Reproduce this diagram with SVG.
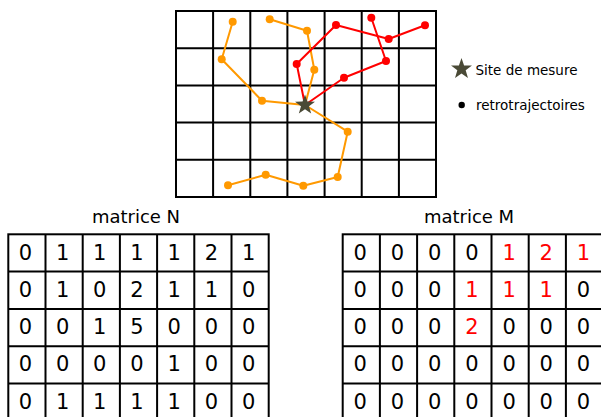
<svg xmlns="http://www.w3.org/2000/svg" xmlns:xlink="http://www.w3.org/1999/xlink" width="601" height="417" viewBox="0 0 601 417">
<style>
.grid{fill:none;stroke:#000;stroke-width:2}
.tor{fill:none;stroke:#ff9900;stroke-width:2;stroke-linejoin:round}
.tred{fill:none;stroke:#ff0000;stroke-width:2;stroke-linejoin:round}
.dor{fill:#ff9900}
.dred{fill:#ff0000}
.lbl{font-family:"DejaVu Sans",Verdana,sans-serif;fill:#000}
.num{font-family:"DejaVu Sans",Verdana,sans-serif;font-size:21px;text-anchor:middle;fill:#000}
.r{fill:#ff0000}
.star{fill:#4a4a36}
</style>
<defs>
<polygon id="star" points="0,-10 2.35,-3.24 9.51,-3.09 3.8,1.24 5.88,8.09 0,4 -5.88,8.09 -3.8,1.24 -9.51,-3.09 -2.35,-3.24"/>
</defs>
<rect width="601" height="417" fill="#fff"/>

<g id="map-grid" class="grid">
<rect x="176" y="11" width="260" height="186"/>
<path d="M213.1 11V197M250.3 11V197M287.4 11V197M324.6 11V197M361.7 11V197M398.9 11V197M176 48.2H436M176 85.4H436M176 122.6H436M176 159.8H436"/>
</g>

<g id="connectors">
<polyline class="tor" points="305,105 262,100.7 221.7,59.3 232.7,21.7"/>
<polyline class="tor" points="305,105 347.7,131.7 337.7,177 303.3,185.7 265.7,174.7 228,185.3"/>
<polyline class="tor" points="305,105 314.3,69.7 307,30.7 269.7,19.3"/>
<polyline class="tred" points="305,105 296.7,64 336,25 388.7,39 425,25.3"/>
<polyline class="tred" points="305,105 344,77.7 386,61 371.3,17.7"/>
</g>

<g id="points">
<g class="dor">
<circle cx="262" cy="100.7" r="4"/><circle cx="221.7" cy="59.3" r="4"/><circle cx="232.7" cy="21.7" r="4"/>
<circle cx="347.7" cy="131.7" r="4"/><circle cx="337.7" cy="177" r="4"/><circle cx="303.3" cy="185.7" r="4"/><circle cx="265.7" cy="174.7" r="4"/><circle cx="228" cy="185.3" r="4"/>
<circle cx="314.3" cy="69.7" r="4"/><circle cx="307" cy="30.7" r="4"/><circle cx="269.7" cy="19.3" r="4"/>
</g>
<g class="dred">
<circle cx="296.7" cy="64" r="4"/><circle cx="336" cy="25" r="4"/><circle cx="388.7" cy="39" r="4"/><circle cx="425" cy="25.3" r="4"/>
<circle cx="344" cy="77.7" r="4"/><circle cx="386" cy="61" r="4"/><circle cx="371.3" cy="17.7" r="4"/>
</g>
</g>

<g id="site">
<use xlink:href="#star" class="star" transform="translate(305,105) scale(1.05)"/>
</g>

<g id="legend">
<use xlink:href="#star" class="star" transform="translate(461.5,69) scale(1.1)"/>
<text class="lbl" x="475.5" y="74.5" font-size="13.5">Site de mesure</text>
<circle cx="461.7" cy="105" r="3.2" fill="#000"/>
<text class="lbl" x="476" y="110" font-size="13.5">retrotrajectoires</text>
</g>

<g id="matrice-N">
<text class="lbl" x="136" y="223" font-size="18" text-anchor="middle">matrice N</text>
<g class="grid">
<rect x="8.3" y="234.3" width="260.4" height="186.5"/>
<path d="M45.5 234.3V421M82.7 234.3V421M119.9 234.3V421M157.1 234.3V421M194.3 234.3V421M231.5 234.3V421M8.3 271.6H268.7M8.3 308.9H268.7M8.3 346.2H268.7M8.3 383.5H268.7"/>
</g>
<g class="num">
<text x="25.4" y="259.5">0</text><text x="62.6" y="259.5">1</text><text x="99.8" y="259.5">1</text><text x="137" y="259.5">1</text><text x="174.2" y="259.5">1</text><text x="211.4" y="259.5">2</text><text x="248.6" y="259.5">1</text>
<text x="25.4" y="296.8">0</text><text x="62.6" y="296.8">1</text><text x="99.8" y="296.8">0</text><text x="137" y="296.8">2</text><text x="174.2" y="296.8">1</text><text x="211.4" y="296.8">1</text><text x="248.6" y="296.8">0</text>
<text x="25.4" y="334.1">0</text><text x="62.6" y="334.1">0</text><text x="99.8" y="334.1">1</text><text x="137" y="334.1">5</text><text x="174.2" y="334.1">0</text><text x="211.4" y="334.1">0</text><text x="248.6" y="334.1">0</text>
<text x="25.4" y="371.4">0</text><text x="62.6" y="371.4">0</text><text x="99.8" y="371.4">0</text><text x="137" y="371.4">0</text><text x="174.2" y="371.4">1</text><text x="211.4" y="371.4">0</text><text x="248.6" y="371.4">0</text>
<text x="25.4" y="408.7">0</text><text x="62.6" y="408.7">1</text><text x="99.8" y="408.7">1</text><text x="137" y="408.7">1</text><text x="174.2" y="408.7">1</text><text x="211.4" y="408.7">0</text><text x="248.6" y="408.7">0</text>
</g>
</g>

<g id="matrice-M">
<text class="lbl" x="469" y="223" font-size="18" text-anchor="middle">matrice M</text>
<g class="grid">
<rect x="342.7" y="234.3" width="260.4" height="186.5"/>
<path d="M379.9 234.3V421M417.1 234.3V421M454.3 234.3V421M491.5 234.3V421M528.7 234.3V421M565.9 234.3V421M342.7 271.6H603.1M342.7 308.9H603.1M342.7 346.2H603.1M342.7 383.5H603.1"/>
</g>
<g class="num">
<text x="360.3" y="259.5">0</text><text x="397.5" y="259.5">0</text><text x="434.7" y="259.5">0</text><text x="471.9" y="259.5">0</text><text class="r" x="509.1" y="259.5">1</text><text class="r" x="546.3" y="259.5">2</text><text class="r" x="583.5" y="259.5">1</text>
<text x="360.3" y="296.8">0</text><text x="397.5" y="296.8">0</text><text x="434.7" y="296.8">0</text><text class="r" x="471.9" y="296.8">1</text><text class="r" x="509.1" y="296.8">1</text><text class="r" x="546.3" y="296.8">1</text><text x="583.5" y="296.8">0</text>
<text x="360.3" y="334.1">0</text><text x="397.5" y="334.1">0</text><text x="434.7" y="334.1">0</text><text class="r" x="471.9" y="334.1">2</text><text x="509.1" y="334.1">0</text><text x="546.3" y="334.1">0</text><text x="583.5" y="334.1">0</text>
<text x="360.3" y="371.4">0</text><text x="397.5" y="371.4">0</text><text x="434.7" y="371.4">0</text><text x="471.9" y="371.4">0</text><text x="509.1" y="371.4">0</text><text x="546.3" y="371.4">0</text><text x="583.5" y="371.4">0</text>
<text x="360.3" y="408.7">0</text><text x="397.5" y="408.7">0</text><text x="434.7" y="408.7">0</text><text x="471.9" y="408.7">0</text><text x="509.1" y="408.7">0</text><text x="546.3" y="408.7">0</text><text x="583.5" y="408.7">0</text>
</g>
</g>
</svg>
